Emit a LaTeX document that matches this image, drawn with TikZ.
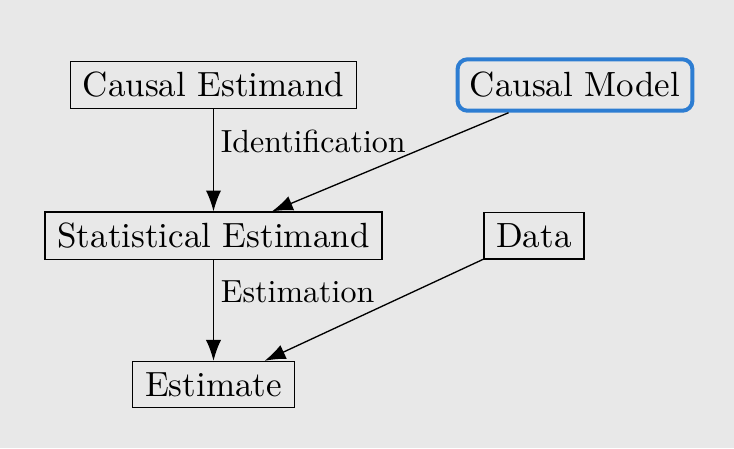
\documentclass[tikz,border=0pt]{standalone}
\usepackage{tikz}
\usetikzlibrary{positioning,arrows.meta,backgrounds}
\definecolor{bggray}{RGB}{232,232,232}
\definecolor{modelblue}{RGB}{45,125,210}
\tikzset{
  qty/.style={rectangle, draw=black, thin, text=black, align=center,
              font=\fontsize{10.5}{12.5}\selectfont, inner xsep=3.7pt, inner ysep=3.3pt},
  model/.style={rectangle, rounded corners=3pt, draw=modelblue, line width=1.2pt,
                text=black, align=center, font=\fontsize{10.5}{12.5}\selectfont,
                inner xsep=3.7pt, inner ysep=3.9pt},
  steparr/.style={-{Latex[length=2.2mm,width=1.6mm]}, thin},
  steplbl/.style={midway, above right, inner sep=2pt, font=\fontsize{9.6}{11}\selectfont},
}
\begin{document}
\begin{tikzpicture}[node distance=31pt and 31pt]
\useasboundingbox[fill=bggray] (-64.05pt,25.5pt) rectangle (156.15pt,-108.9pt);
\node[qty] (ce) {Causal Estimand};
\node[model, right=29.5pt of ce] (cm) {Causal Model};
\node[qty, below=30.6pt of ce] (se) {Statistical Estimand};
\node[qty, right=30.2pt of se] (data) {Data};
\node[qty, below=30.2pt of se] (est) {Estimate};
\draw[steparr] (ce) -- node[steplbl] {Identification} (se);
\draw[steparr] (se) -- node[steplbl] {Estimation} (est);
\draw[steparr] (cm) -- (se);
\draw[steparr] (data) -- (est);
\end{tikzpicture}
\end{document}
